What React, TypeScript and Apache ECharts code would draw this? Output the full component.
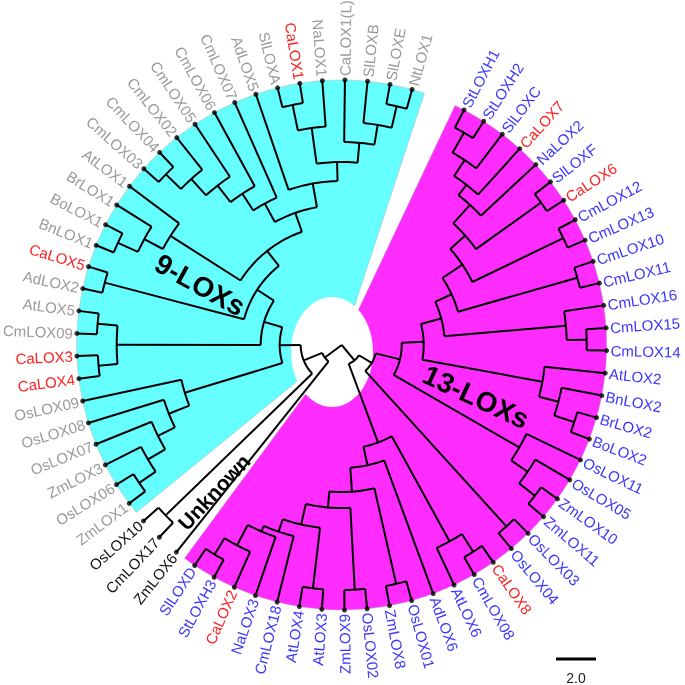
import { useEffect, useRef } from "react";
import * as echarts from "echarts";

// ---- leaves, clockwise from the top-right ----
const leaves13 = ["StLOXH1","StLOXH2","SlLOXC","CaLOX7","NaLOX2","SlLOXF","CaLOX6","CmLOX12","CmLOX13","CmLOX10","CmLOX11","CmLOX16","CmLOX15","CmLOX14","AtLOX2","BnLOX2","BrLOX2","BoLOX2","OsLOX11","OsLOX05","ZmLOX10","ZmLOX11","OsLOX03","OsLOX04","CaLOX8","CmLOX08","AtLOX6","AdLOX6","OsLOX01","ZmLOX8","OsLOX02","ZmLOX9","AtLOX3","AtLOX4","CmLOX18","NaLOX3","CaLOX2","StLOXH3","SlLOXD"];
const leavesUnknown = ["ZmLOX6","CmLOX17","OsLOX10"];
const leaves9 = ["ZmLOX1","OsLOX06","ZmLOX3","OsLOX07","OsLOX08","OsLOX09","CaLOX4","CaLOX3","CmLOX09","AtLOX5","AdLOX2","CaLOX5","BnLOX1","BoLOX1","BrLOX1","AtLOX1","CmLOX03","CmLOX04","CmLOX02","CmLOX05","CmLOX06","CmLOX07","AdLOX5","SlLOXA","CaLOX1","NaLOX1","CaLOX1(L)","SlLOXB","SlLOXE","NtLOX1"];
const pepperGenes = ["CaLOX1","CaLOX2","CaLOX3","CaLOX4","CaLOX5","CaLOX6","CaLOX7","CaLOX8"];

// ---- clades: [id, child, child, distance from root] ----
type Clade = [string, string, string, number];
const clades13: Clade[] = [
  ["S1","StLOXH1","StLOXH2",12.25],["S2","S1","SlLOXC",11.1],["S3","S2","CaLOX7",10.15],["S4","S3","NaLOX2",9.5],
  ["S5","SlLOXF","CaLOX6",12.25],["S6","S4","S5",8.25],["S7","CmLOX12","CmLOX13",12.3],["S8","S6","S7",7.25],
  ["S9","CmLOX10","CmLOX11",12.25],["S10","S8","S9",6.05],["S11","CmLOX15","CmLOX14",12.25],["S12","CmLOX16","S11",11.25],
  ["S13","S10","S12",5.15],["B1","BrLOX2","BoLOX2",12.25],["B2","BnLOX2","B1",11.2],["B3","AtLOX2","B2",10.2],
  ["S14","S13","B3",4.1],["O1","ZmLOX10","ZmLOX11",12.25],["O2","OsLOX05","O1",11.25],["O3","OsLOX11","O2",10.25],
  ["S15","S14","O3",3.0],["P1","OsLOX03","OsLOX04",12.25],["S16","S15","P1",1.75],
  ["P2","CaLOX8","CmLOX08",12.25],["P3","P2","AtLOX6",11.2],
  ["R1","StLOXH3","SlLOXD",12.25],["R2","CaLOX2","R1",11.3],["R3","NaLOX3","R2",10.15],["Y","CmLOX18","R3",9.85],
  ["Q3","AtLOX3","AtLOX4",12.25],["L184","Q3","Y",9.2],["Q2","OsLOX02","ZmLOX9",12.25],["L163","Q2","L184",8.15],
  ["Q1","OsLOX01","ZmLOX8",12.25],["L147","Q1","L163",7.35],["L123","AdLOX6","L147",6.15],["L104","P3","L123",5.2],
  ["W","S16","L104",1.0],
];
const cladesUnknown: Clade[] = [["U1","CmLOX17","OsLOX10",12.25]];
const clades9: Clade[] = [
  ["M1","ZmLOX1","OsLOX06",12.25],["M2","M1","ZmLOX3",11.25],["M3","M2","OsLOX07",10.25],["M4","M3","OsLOX08",9.3],
  ["M5","M4","OsLOX09",8.2],["C1","CaLOX4","CaLOX3",12.2],["C2","CmLOX09","AtLOX5",12.25],["C3","C1","C2",11.25],
  ["D1","AdLOX2","CaLOX5",12.25],["A1","BnLOX1","BoLOX1",12.3],["A2","A1","BrLOX1",11.2],["A3","A2","AtLOX1",10.15],
  ["Na","CmLOX03","CmLOX04",12.25],["Nb","Na","CmLOX02",11.2],["Nc","Nb","CmLOX05",10.1],["Nd","Nc","CmLOX06",9.05],
  ["Ne","Nd","CmLOX07",8.05],["T1","SlLOXE","NtLOX1",12.25],["T2","SlLOXB","T1",11.15],["T3","CaLOX1(L)","T2",10.15],
  ["T4","SlLOXA","CaLOX1",12.25],["T5","T4","NaLOX1",10.95],["T6","T5","T3",9.15],["T7","AdLOX5","T6",8.2],
  ["Nf","Ne","T7",7.0],["Ng","A3","Nf",6.0],["Nh","D1","Ng",5.05],["P9","C3","Nh",4.05],["K","M5","P9",3.1],
];
const cladesRoot: Clade[] = [["U9","U1","K",2.05],["V","ZmLOX6","U9",1.05],["ROOT","V","W",0]];

const TIP = 13.25;          // leaf distance from root
const FIRST_ANGLE = 27.5;   // angle of first leaf (deg, clockwise from top)
const STEP = 4.9;           // angle between neighbouring leaves
const SCALE_LEN = 2.0;

export default function App() {
  const ref = useRef<HTMLDivElement>(null);
  useEffect(() => {
    document.body.style.margin = "0";
    const chart = echarts.init(ref.current!, null, { renderer: "svg" });
    const allLeaves = [...leaves13, ...leavesUnknown, ...leaves9];
    const groupOf = (i: number) => (i < leaves13.length ? 0 : i < leaves13.length + leavesUnknown.length ? 1 : 2);
    const pos: Record<string, { r: number; a: number }> = {};
    allLeaves.forEach((n, i) => (pos[n] = { r: TIP, a: FIRST_ANGLE + STEP * i }));
    const allClades = [...clades13, ...cladesUnknown, ...clades9, ...cladesRoot];
    const byId: Record<string, Clade> = {};
    allClades.forEach((c) => (byId[c[0]] = c));
    const resolve = (id: string): { r: number; a: number } => {
      if (pos[id]) return pos[id];
      const c = byId[id];
      const A = resolve(c[1]);
      const B = resolve(c[2]);
      pos[id] = { r: c[3], a: (A.a + B.a) / 2 };
      return pos[id];
    };
    const branchData = allClades.map((c) => {
      const p = resolve(c[0]);
      const A = resolve(c[1]);
      const B = resolve(c[2]);
      return [p.r, p.a, A.r, A.a, B.r, B.a];
    });
    const leafData = allLeaves.map((n, i) => [TIP, FIRST_ANGLE + STEP * i, i]);
    const a9s = FIRST_ANGLE + STEP * (leaves13.length + leavesUnknown.length);
    const a9e = FIRST_ANGLE + STEP * (allLeaves.length - 1);
    const a13e = FIRST_ANGLE + STEP * (leaves13.length - 1);
    const shadeData = [
      [TIP, FIRST_ANGLE - 2.2, a13e + 2.7, 0],
      [TIP, a9s - 2.5, a9e + 2.8, 1],
    ];
    const shadeColors = ["#ff2cff", "#66ffff"];
    const labelColors = ["#3a36ff", "#111111", "#9a9a9a"];

    chart.setOption({
      animation: false,
      polar: { center: [341.7, 345], radius: 265 },
      angleAxis: { type: "value", min: 0, max: 360, startAngle: 90, clockwise: true, show: false, splitLine: { show: false } },
      radiusAxis: { type: "value", min: 0, max: TIP, show: false, splitLine: { show: false } },
      graphic: [
        { type: "ellipse", z: 1, shape: { cx: 332, cy: 352, rx: 41, ry: 55 }, style: { fill: "#ffffff" } },
        { type: "line", z: 5, shape: { x1: 556, y1: 659, x2: 556 + SCALE_LEN * 20, y2: 659 }, style: { stroke: "#000", lineWidth: 3 } },
        { type: "text", z: 5, x: 576, y: 678, style: { text: SCALE_LEN.toFixed(1), font: '14px "Liberation Sans"', fill: "#222", align: "center", verticalAlign: "middle" } },
        { type: "text", z: 5, x: 200, y: 285, rotation: (-29 * Math.PI) / 180, style: { text: "9-LOXs", font: 'bold 28px "Liberation Sans"', fill: "#000", align: "center", verticalAlign: "middle" } },
        { type: "text", z: 5, x: 476, y: 397, rotation: (-25 * Math.PI) / 180, style: { text: "13-LOXs", font: 'bold 28px "Liberation Sans"', fill: "#000", align: "center", verticalAlign: "middle" } },
        { type: "text", z: 5, x: 214, y: 492, rotation: (47 * Math.PI) / 180, style: { text: "Unknown", font: 'bold 21px "Liberation Sans"', fill: "#000", align: "center", verticalAlign: "middle" } },
      ],
      series: [
        {
          type: "custom",
          coordinateSystem: "polar",
          z: 0,
          silent: true,
          data: shadeData,
          renderItem: (params: any, api: any) => {
            const R = api.value(0), a0 = api.value(1), a1 = api.value(2);
            const pts: number[][] = [api.coord([0, (a0 + a1) / 2])];
            const n = 80;
            for (let k = 0; k <= n; k++) pts.push(api.coord([R, a0 + ((a1 - a0) * k) / n]));
            return { type: "polygon", shape: { points: pts }, style: { fill: shadeColors[api.value(3)], stroke: "#b0b0b0", lineWidth: 0.5 } };
          },
        },
        {
          type: "custom",
          coordinateSystem: "polar",
          z: 3,
          silent: true,
          data: branchData,
          renderItem: (params: any, api: any) => {
            const r = api.value(0);
            const rA = api.value(2), aA = api.value(3), rB = api.value(4), aB = api.value(5);
            const lo = Math.min(aA, aB), hi = Math.max(aA, aB);
            const n = Math.max(2, Math.ceil(hi - lo));
            const arc: number[][] = [];
            for (let k = 0; k <= n; k++) arc.push(api.coord([r, lo + ((hi - lo) * k) / n]));
            const st = { stroke: "#000", lineWidth: 2, fill: null, lineJoin: "miter" };
            const s1 = [api.coord([rA, aA]), api.coord([r, aA])];
            const s2 = [api.coord([rB, aB]), api.coord([r, aB])];
            return {
              type: "group",
              children: [
                { type: "polyline", shape: { points: arc }, style: st },
                { type: "line", shape: { x1: s1[0][0], y1: s1[0][1], x2: s1[1][0], y2: s1[1][1] }, style: st },
                { type: "line", shape: { x1: s2[0][0], y1: s2[0][1], x2: s2[1][0], y2: s2[1][1] }, style: st },
              ],
            };
          },
        },
        {
          type: "scatter",
          coordinateSystem: "polar",
          z: 4,
          silent: true,
          symbolSize: 5,
          itemStyle: { color: "#000" },
          data: leafData.map((d) => [d[0], d[1]]),
        },
        {
          type: "custom",
          coordinateSystem: "polar",
          z: 4,
          silent: true,
          data: leafData,
          renderItem: (params: any, api: any) => {
            const i = api.value(2);
            const a = api.value(1);
            const p = api.coord([TIP + 0.2, a]);
            const norm = ((a % 360) + 360) % 360;
            const right = norm > 0 && norm < 177;
            const rot = right ? 90 - norm : 270 - norm;
            const name = allLeaves[i];
            const color = pepperGenes.includes(name) ? "#ff2020" : labelColors[groupOf(i)];
            return {
              type: "text",
              x: p[0],
              y: p[1],
              rotation: (rot * Math.PI) / 180,
              style: { text: name, fill: color, font: '15px "Liberation Sans"', align: right ? "left" : "right", verticalAlign: "middle" },
            };
          },
        },
      ],
    });
    return () => chart.dispose();
  }, []);
  return <div ref={ref} style={{ position: "fixed", left: 0, top: 0, width: 685, height: 685 }} />;
}
